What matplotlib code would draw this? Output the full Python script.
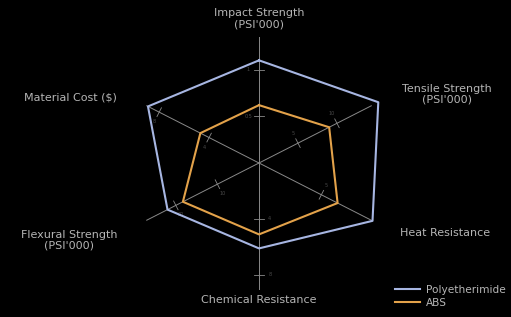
import numpy as np
import matplotlib
matplotlib.use("Agg")
from matplotlib import pyplot as plt

# axes of the radar, clockwise from the top
labels = ["Impact Strength\n(PSI'000)", "Tensile Strength\n(PSI'000)", "Heat Resistance",
          "Chemical Resistance", "Flexural Strength\n(PSI'000)", "Material Cost ($)"]
axis_max = [1.5, 16, 10, 10, 30, 10]
axis_ticks = [[0.5, 1.0], [5, 10], [5], [4, 8], [10, 20], [4, 8]]

polyetherimide = [1.1, 15.3, 9.1, 6.1, 22.0, 8.9]
abs_plastic = [0.62, 9.0, 6.3, 5.1, 18.3, 4.7]

angles = np.deg2rad([90, 27, -27, -90, 207, 153])

fig = plt.figure(figsize=(5.11, 3.17), dpi=100, facecolor='black')
ax = fig.add_axes([0, 0, 1, 1])
ax.set_facecolor('black')
ax.set_xlim(-259 / 140, (511 - 259) / 140)
ax.set_ylim(-(317 - 163) / 140, 163 / 140)
ax.axis('off')

# spokes with little ticks
for ang, mx, ticks in zip(angles, axis_max, axis_ticks):
    ax.plot([0, 0.9 * np.cos(ang)], [0, 0.9 * np.sin(ang)], color='#8a8a8a', lw=0.7, zorder=1)
    for t in ticks:
        r = t / mx
        cx, cy = r * np.cos(ang), r * np.sin(ang)
        px, py = -np.sin(ang) * 0.035, np.cos(ang) * 0.035
        ax.plot([cx - px, cx + px], [cy - py, cy + py], color='#8a8a8a', lw=0.6, zorder=1)
        ax.text(cx + px * 2.2, cy + py * 2.2, f'{t:g}', color='#4a4a4a', fontsize=3.5,
                ha='center', va='center')

def closed(vals):
    r = np.array(vals) / np.array(axis_max)
    x = r * np.cos(angles)
    y = r * np.sin(angles)
    return np.append(x, x[0]), np.append(y, y[0])

x, y = closed(polyetherimide)
ax.plot(x, y, color='#a7b6e2', lw=1.5, label='Polyetherimide', zorder=3)
x, y = closed(abs_plastic)
ax.plot(x, y, color='#e3a24a', lw=1.5, label='ABS', zorder=3)

txt = dict(color='#b5b5b5', fontsize=8, linespacing=1.1)
label_pos = [(0, 1.03, 'center'), (1.02, 0.49, 'left'), (1.01, -0.5, 'left'),
             (0, -0.98, 'center'), (-1.014, -0.55, 'right'), (-1.014, 0.47, 'right')]
for lab, (lx, ly, ha) in zip(labels, label_pos):
    ax.text(lx, ly, lab, ha=ha, va='center', multialignment='center', **txt)

leg = ax.legend(loc='upper left', bbox_to_anchor=(0.773, 0.102), frameon=False, fontsize=7.6,
                handlelength=2.4, labelspacing=0.3, handletextpad=0.5, borderpad=0,
                borderaxespad=0)
for t in leg.get_texts():
    t.set_color('#b5b5b5')

fig.savefig('out.png', dpi=100, facecolor='black')
